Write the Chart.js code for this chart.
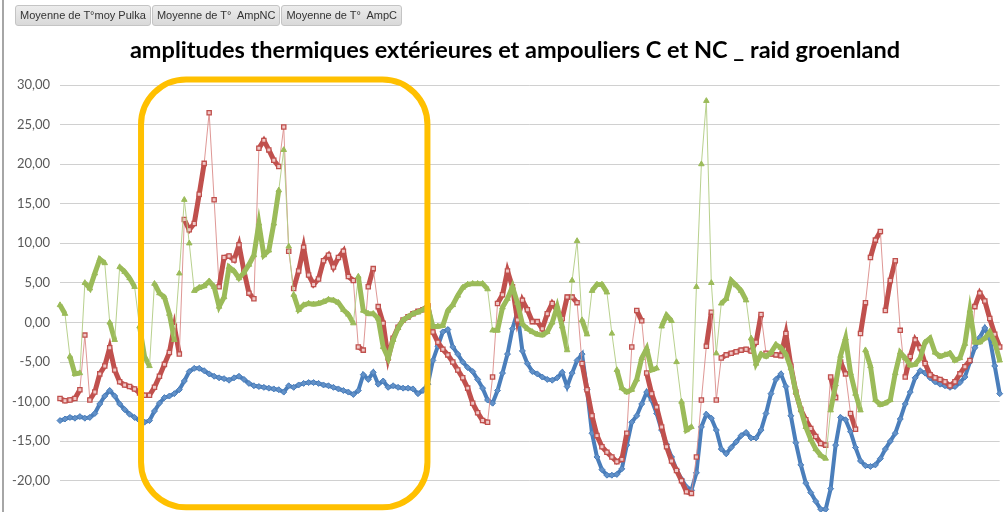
<!DOCTYPE html>
<html>
<head>
<meta charset="utf-8">
<script src="https://cdn.jsdelivr.net/npm/chart.js@4.4.1/dist/chart.umd.min.js"></script>
<style>
    html, body {
        margin: 0;
        padding: 0;
        width: 1005px;
        height: 512px;
        overflow: hidden;
        background: #ffffff;
    }
    .frame-line {
        position: absolute;
        left: 2px;
        top: 0;
        width: 2px;
        height: 512px;
        background: #a6a6a6;
    }
    .field-buttons {
        position: absolute;
        left: 15px;
        top: 5px;
        display: flex;
        gap: 1px;
    }
    .field-btn {
        height: 19px;
        line-height: 19px;
        padding: 0 4px;
        font-family: 'Liberation Sans', sans-serif;
        font-size: 11px;
        color: #333333;
        white-space: pre;
        background: linear-gradient(#ececec, #d9d9d9);
        border: 1px solid #c4c4c4;
        border-radius: 3px;
    }
    .chart-title {
        position: absolute;
        left: 0;
        top: 35px;
        width: 1030px;
        text-align: center;
        font-family: 'Lato', sans-serif;
        font-weight: bold;
        font-size: 23.5px;
        color: #000000;
    }
    .chart-wrap {
        position: absolute;
        left: 0;
        top: 0;
        width: 1005px;
        height: 540px;
    }
</style>
</head>
<body>
<div class="chart-wrap"><canvas id="tempChart"></canvas></div>
<div class="frame-line"></div>
<div class="field-buttons">
    <div class="field-btn">Moyenne de T°moy Pulka</div>
    <div class="field-btn">Moyenne de T°  AmpNC</div>
    <div class="field-btn">Moyenne de T°  AmpC</div>
</div>
<div class="chart-title">amplitudes thermiques extérieures et ampouliers C et NC _ raid groenland</div>

<script>
// Series names (pivot field buttons)
const seriesNames = ['Moyenne de T°moy Pulka', 'Moyenne de T°  AmpNC', 'Moyenne de T°  AmpC'];

// Y axis ticks
const yMin = -25;
const yMax = 30;
const yStep = 5;

// Moyenne de T°moy Pulka (blue)
const pulkaValues = [
    -12.4, -12.2, -12.0, -12.1, -11.9, -12.1, -12.0, -11.5, -10.3, -9.3,
    -8.6, -9.3, -10.3, -11.0, -11.6, -12.0, -12.4, -12.6, -12.4, -11.2,
    -10.2, -9.5, -9.3, -9.0, -8.5, -7.4, -6.2, -5.8, -5.8, -6.1,
    -6.5, -6.8, -7.0, -7.1, -7.3, -7.0, -6.8, -7.2, -7.7, -8.0,
    -8.1, -8.2, -8.3, -8.4, -8.5, -8.8, -8.0, -8.2, -7.9, -7.7,
    -7.6, -7.6, -7.7, -7.9, -8.0, -8.2, -8.4, -8.6, -8.8, -9.1,
    -8.6, -6.6, -7.2, -6.3, -7.8, -7.4, -8.2, -8.0, -8.2, -8.3,
    -8.3, -8.4, -9.0, -8.6, -7.8, -4.8, -3.0, -1.2, -0.9, -3.1,
    -4.0, -5.0, -5.7, -6.2, -7.2, -8.3, -9.8, -10.2, -8.6, -6.4,
    -4.0, -0.8, 1.3, -3.6, -5.2, -6.2, -6.5, -6.9, -7.2, -7.3,
    -7.0, -6.3, -8.1, -6.4, -4.8, -4.0, -8.5, -14.0, -17.0, -18.6,
    -19.3, -19.3, -19.2, -18.5, -15.5, -12.6, -11.8, -10.3, -8.8, -9.8,
    -11.5, -13.6, -15.4, -17.0, -18.6, -19.8, -20.8, -21.2, -19.0, -13.2,
    -11.6, -12.1, -13.6, -16.0, -16.6, -15.8, -15.1, -14.3, -13.9, -14.6,
    -14.6, -13.6, -11.5, -9.0, -7.2, -6.5, -8.1, -11.8, -15.2, -18.0,
    -20.3, -21.5, -22.6, -23.6, -23.6, -21.0, -15.5, -12.0, -12.3, -13.8,
    -15.8, -17.5, -18.1, -18.2, -18.0, -17.2, -16.0, -15.0, -14.0, -12.2,
    -10.3, -8.8, -7.0, -6.1, -6.4, -7.0, -7.5, -7.8, -8.0, -8.2,
    -8.1, -7.6, -6.9, -5.0, -3.2, -1.9, -0.7, -2.0, -5.5, -9.0
];

// Moyenne de T° AmpNC (red)
const ampNCValues = [
    -9.6, -9.9, -9.8, -9.6, -8.5, -1.6, -9.8, -8.8, -6.5, -5.5,
    -3.2, -6.0, -7.5, -7.9, -8.1, -8.4, -8.9, -9.2, -9.2, -8.2,
    -6.8, -5.3, -3.8, -0.5, -4.0, 13.0, 11.7, 12.5, 16.2, 20.1,
    26.5, 15.5, 4.5, 8.2, 8.4, 7.9, 9.8, 6.5, 3.7, 3.0,
    22.0, 23.0, 21.8, 20.5, 19.7, 24.7, 9.0, 4.3, 6.5, 9.5,
    6.0, 4.8, 5.5, 7.8, 8.5, 7.0, 8.2, 9.0, 5.8, 5.3,
    -3.1, -3.5, 4.5, 6.8, 2.0, -0.1, -4.5, -2.0, -0.6, 0.3,
    0.7, 1.1, 1.4, 1.6, 2.1, -1.2, -2.5, -3.4, -4.1, -5.0,
    -6.0, -7.0, -8.3, -10.2, -11.4, -12.4, -12.6, -6.9, 2.4, 3.5,
    6.5, 4.5, 0.3, 2.8, 1.6, 0.1, 0.1, -0.8, 1.1, 2.4,
    1.5, 0.5, 3.2, 3.2, 2.5, -5.2, -8.5, -11.8, -14.3, -15.7,
    -16.4, -17.0, -17.6, -17.3, -14.0, -3.1, 1.5, 0.2, -6.4, -9.0,
    -10.7, -13.2, -15.7, -17.5, -18.7, -20.0, -21.4, -21.6, -17.0, -9.8,
    -3.0, 1.3, -9.8, -4.5, -4.1, -3.9, -3.7, -3.5, -3.4, -3.6,
    -2.5, 1.0, -3.9, -4.0, -4.1, -4.2, -1.4, -5.5, -8.8, -11.0,
    -12.3, -13.4, -14.4, -15.3, -15.5, -6.9, -9.5, -5.0, -6.5, -11.5,
    -13.5, -1.4, 2.5, 8.2, 10.4, 11.5, 1.5, 5.3, 7.8, -1.0,
    -6.9, -4.3, -2.2, -3.2, -5.2, -6.6, -7.0, -7.2, -7.5, -8.0,
    -7.5, -6.5, -5.6, -4.8, 2.0, 3.7, 2.7, 0.5, -1.5, -3.1
];

// Moyenne de T° AmpC (green)
const ampCValues = [
    2.2, 1.1, -4.3, -6.5, -6.4, 5.0, 4.3, 6.2, 8.0, 7.5,
    0.0, -2.2, 7.0, 6.4, 5.6, 4.5, -0.5, -4.3, -5.5, 4.9,
    3.7, 3.2, 1.1, -2.2, 6.2, 15.5, 10.0, 4.0, 4.4, 4.6,
    5.2, 4.5, 2.0, 3.2, 7.0, 6.5, 5.6, 6.3, 7.3, 8.5,
    12.5, 8.5, 9.1, 12.5, 16.7, 21.8, 9.6, 3.5, 1.6, 2.2,
    2.4, 2.3, 2.4, 2.6, 2.9, 2.8, 2.5, 1.6, 1.0, -0.1,
    5.8, 1.5, 1.1, 1.1, 0.5, -3.1, -4.5, -2.2, -0.7, 0.3,
    0.7, 1.1, 1.3, 1.6, 1.9, -0.5, -0.5, -0.4, 1.5, 2.2,
    3.4, 4.4, 4.8, 4.9, 4.9, 4.9, 4.2, -1.0, -1.0, 1.9,
    3.0, 4.5, 2.5, -0.2, -0.8, -1.2, -1.5, -1.6, -1.2, 0.0,
    2.0, -0.5, -3.5, 5.3, 10.3, 0.3, -1.5, 4.0, 4.8, 4.8,
    3.8, -1.4, -6.0, -8.3, -8.8, -8.5, -7.2, -4.5, -3.3, -6.0,
    -5.8, -0.5, 0.9, 0.2, -5.0, -10.0, -13.6, -13.2, 4.5, 20.0,
    28.0, 5.0, -3.9, 2.4, 3.0, 5.3, 4.7, 4.0, 2.8, -2.0,
    -5.2, -4.0, -4.3, -3.8, -2.8, -3.2, -4.0, -5.8, -8.8, -11.0,
    -13.2, -14.8, -16.0, -16.8, -17.2, -11.1, -7.8, -4.2, -2.0, -6.4,
    -9.0, -11.1, -3.5, -5.5, -9.8, -10.4, -10.2, -9.8, -6.4, -3.8,
    -4.5, -5.4, -5.3, -4.5, -2.5, -2.0, -3.8, -4.3, -4.1, -3.9,
    -4.8, -4.5, -2.7, 1.5, -2.5, -2.5, -2.0, -1.2, -2.5, -4.8
];

// Highlight box (in data units: sample index / temperature)
const highlightBox = { xMin: 16.3, xMax: 73.9, yMin: -23.35, yMax: 30.7 };

const sampleLabels = pulkaValues.map((_, i) => i + 1);

// Steep jumps are drawn thin and pale (sparse markers in the original),
// gentle stretches as a thick band (dense overlapping markers)
const steepPx = 35;

function isSteep(segCtx) {
    return Math.abs(segCtx.p1.y - segCtx.p0.y) > steepPx;
}

// Rounded orange frame drawn over the data
const highlightPlugin = {
    id: 'highlightBox',
    afterDatasetsDraw(chart) {
        const { ctx, scales } = chart;
        const left = scales.x.getPixelForValue(highlightBox.xMin);
        const right = scales.x.getPixelForValue(highlightBox.xMax);
        const top = scales.y.getPixelForValue(highlightBox.yMax);
        const bottom = scales.y.getPixelForValue(highlightBox.yMin);
        const r = 45;
        ctx.save();
        ctx.strokeStyle = '#FFC000';
        ctx.lineWidth = 6;
        ctx.beginPath();
        ctx.moveTo(left + r, top);
        ctx.lineTo(right - r, top);
        ctx.arcTo(right, top, right, top + r, r);
        ctx.lineTo(right, bottom - r);
        ctx.arcTo(right, bottom, right - r, bottom, r);
        ctx.lineTo(left + r, bottom);
        ctx.arcTo(left, bottom, left, bottom - r, r);
        ctx.lineTo(left, top + r);
        ctx.arcTo(left, top, left + r, top, r);
        ctx.closePath();
        ctx.stroke();
        ctx.restore();
    }
};

function formatTick(value) {
    return value.toFixed(2).replace('.', ',');
}

const ctx = document.getElementById('tempChart');

new Chart(ctx, {
    type: 'line',
    data: {
        labels: sampleLabels,
        datasets: [
            {
                label: seriesNames[0],
                data: pulkaValues,
                borderColor: 'rgba(74, 126, 187, 1)',
                backgroundColor: 'rgba(74, 126, 187, 1)',
                borderWidth: 4,
                pointStyle: 'rectRot',
                pointRadius: 3,
                pointBorderWidth: 1,
                pointBorderColor: 'rgba(74, 126, 187, 1)',
                pointBackgroundColor: 'rgba(98, 145, 200, 1)',
                tension: 0,
                order: 2
            },
            {
                label: seriesNames[1],
                data: ampNCValues,
                borderColor: 'rgba(192, 80, 77, 1)',
                backgroundColor: 'rgba(192, 80, 77, 1)',
                borderWidth: 5,
                segment: {
                    borderWidth: c => isSteep(c) ? 1 : 5,
                    borderColor: c => isSteep(c) ? 'rgba(218, 140, 138, 0.9)' : 'rgba(192, 80, 77, 1)'
                },
                pointStyle: 'rect',
                pointRadius: 3,
                pointBorderWidth: 1.3,
                pointBorderColor: 'rgba(192, 80, 77, 1)',
                pointBackgroundColor: 'rgba(240, 200, 199, 1)',
                tension: 0,
                order: 1
            },
            {
                label: seriesNames[2],
                data: ampCValues,
                borderColor: 'rgba(155, 187, 89, 1)',
                backgroundColor: 'rgba(155, 187, 89, 1)',
                borderWidth: 5,
                segment: {
                    borderWidth: c => isSteep(c) ? 1 : 5,
                    borderColor: c => isSteep(c) ? 'rgba(180, 206, 135, 0.95)' : 'rgba(155, 187, 89, 1)'
                },
                pointStyle: 'triangle',
                pointRadius: 3.2,
                pointBorderWidth: 1,
                pointBorderColor: 'rgba(155, 187, 89, 1)',
                pointBackgroundColor: 'rgba(155, 187, 89, 1)',
                tension: 0,
                order: 0
            }
        ]
    },
    options: {
        responsive: true,
        maintainAspectRatio: false,
        animation: false,
        layout: {
            padding: { top: 85, right: 0, bottom: 19.7, left: 0 }
        },
        plugins: {
            legend: { display: false },
            title: { display: false },
            tooltip: { enabled: false }
        },
        scales: {
            x: {
                display: false,
                offset: false
            },
            y: {
                min: yMin,
                max: yMax,
                border: { display: false },
                grid: {
                    color: '#d0d0d0',
                    lineWidth: 1,
                    drawTicks: false
                },
                ticks: {
                    stepSize: yStep,
                    padding: 10,
                    color: '#595959',
                    font: { family: "'Lato', sans-serif", size: 13 },
                    callback: function(value) {
                        return formatTick(value);
                    }
                },
                afterFit: function(scale) {
                    scale.width = 60;
                }
            }
        }
    },
    plugins: [highlightPlugin]
});
</script>
</body>
</html>
